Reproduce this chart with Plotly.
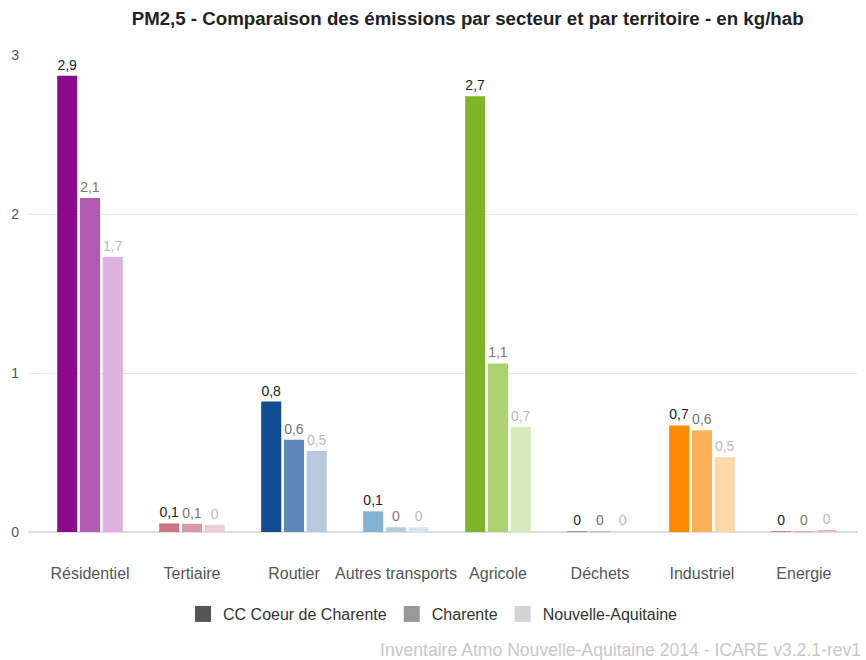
import plotly.graph_objects as go

sectors = ["Résidentiel", "Tertiaire", "Routier", "Autres transports", "Agricole", "Déchets", "Industriel", "Energie"]
territories = ["CC Coeur de Charente", "Charente", "Nouvelle-Aquitaine"]
v_cc = [2.87, 0.054, 0.82, 0.13, 2.74, 0.002, 0.67, 0.003]
v_charente = [2.10, 0.052, 0.58, 0.03, 1.06, 0.002, 0.64, 0.003]
v_na = [1.73, 0.045, 0.51, 0.03, 0.66, 0.002, 0.47, 0.012]

colors_cc = ["#8b0a8c", "#cb7582", "#0f4c91", "#83b2d3", "#7db42a", "#9a9a9a", "#ff8a00", "#e07888"]
colors_charente = ["#b05ab2", "#d99aa5", "#5d89bb", "#b6cde2", "#acd372", "#bbbbbb", "#ffb158", "#eaa0ac"]
colors_na = ["#ddb2df", "#ebcfd3", "#b5c9df", "#d8e4ef", "#d8eabb", "#dddddd", "#ffd7a8", "#f0b8c2"]
legend_colors = ["#555555", "#999999", "#d3d3d3"]
text_colors = ["#222222", "#777777", "#bbbbbb"]


def fmt(v):
    if round(v, 1) == 0:
        return "0"
    return ("%.1f" % v).replace(".", ",")


fig = go.Figure()
for name, vals, cols, tc in zip(territories, [v_cc, v_charente, v_na],
                                [colors_cc, colors_charente, colors_na], text_colors):
    fig.add_trace(go.Bar(
        x=sectors, y=vals, name=name, marker=dict(color=cols, line=dict(width=0)),
        text=[fmt(v) for v in vals], textposition="outside", constraintext="none",
        textfont=dict(color=tc, size=14, family="Liberation Sans, Arial"),
        cliponaxis=False, showlegend=False,
    ))
for name, lc in zip(territories, legend_colors):
    fig.add_trace(go.Scatter(x=[None], y=[None], mode="markers", name=name,
                             marker=dict(color=lc, symbol="square", size=17), showlegend=True))

fig.update_layout(
    width=866, height=660,
    paper_bgcolor="white", plot_bgcolor="white",
    font=dict(family="Liberation Sans, Arial", color="#444444", size=13),
    title=dict(text="<b>PM2,5 - Comparaison des émissions par secteur et par territoire - en kg/hab</b>",
               xref="container", x=0.54, xanchor="center", y=0.972, yanchor="middle",
               font=dict(size=18.7, color="#222222")),
    barmode="group", bargap=0.33, bargroupgap=0.12,
    margin=dict(l=28, r=8, t=55, b=128, autoexpand=False),
    legend=dict(orientation="h", x=0.488, xanchor="center", y=-0.172, yanchor="middle",
                font=dict(size=16, color="#333333"), traceorder="normal", itemwidth=30),
    xaxis=dict(range=[-0.608, 7.53], showgrid=False, showline=False, ticks="",
               tickfont=dict(size=16, color="#555555"), ticklabelstandoff=30, tickangle=0),
    yaxis=dict(range=[0, 3], tickvals=[0, 1, 2, 3], ticktext=["0", "1", "2", "3"],
               gridcolor="#e8e8e8", zeroline=True, zerolinecolor="#dddddd",
               tickfont=dict(size=14, color="#555555"), ticklabelstandoff=8),
    annotations=[dict(text="Inventaire Atmo Nouvelle-Aquitaine 2014 - ICARE v3.2.1-rev1",
                      xref="paper", yref="paper", x=1.0, xanchor="right", xshift=5,
                      y=-0.248, yanchor="middle",
                      showarrow=False, font=dict(size=17.6, color="#c8c8c8"))],
)

fig.write_html("out.html", config={"displayModeBar": False},
               post_script="document.body.style.margin='0';")
